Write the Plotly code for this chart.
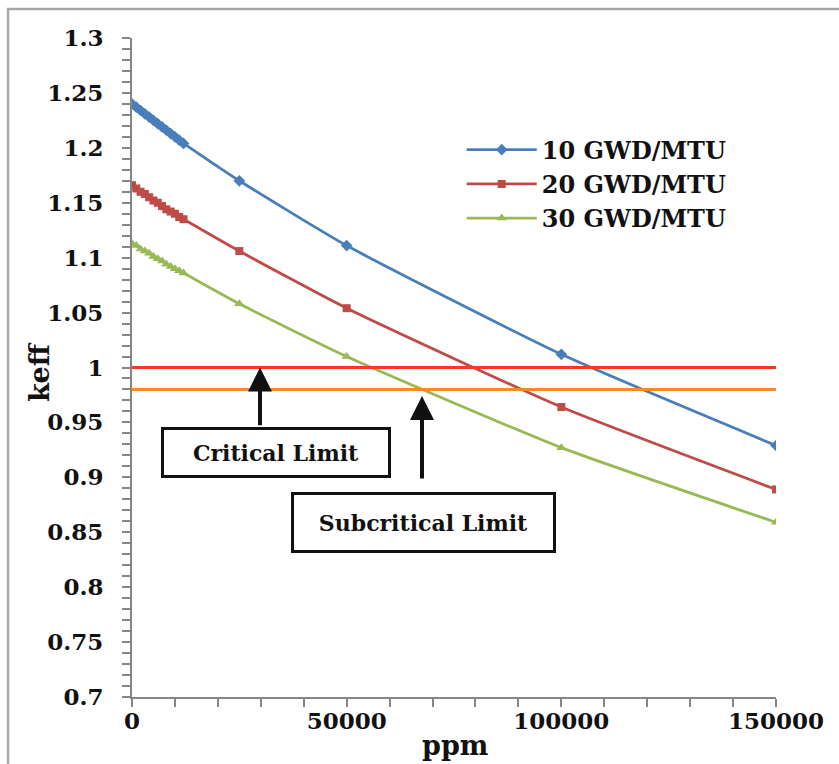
import plotly.graph_objects as go

# Boron concentration (ppm) and k-effective for three burnup levels
ppm = [0, 1000, 2000, 3000, 4000, 5000, 6000, 7000, 8000, 9000, 10000, 11000, 12000,
       25000, 50000, 100000, 150000]
keff_10 = [1.240, 1.237, 1.234, 1.231, 1.228, 1.225, 1.222, 1.219, 1.216, 1.213, 1.210,
           1.207, 1.204, 1.170, 1.111, 1.012, 0.929]
keff_20 = [1.166, 1.163, 1.160, 1.158, 1.155, 1.152, 1.150, 1.147, 1.144, 1.142, 1.140,
           1.137, 1.135, 1.106, 1.054, 0.964, 0.889]
keff_30 = [1.113, 1.111, 1.108, 1.106, 1.104, 1.101, 1.099, 1.097, 1.094, 1.092, 1.090,
           1.088, 1.086, 1.058, 1.010, 0.927, 0.859]

series_names = ["10 GWD/MTU", "20 GWD/MTU", "30 GWD/MTU"]
critical_limit = 1.0
subcritical_limit = 0.98
x_range = [0, 150000]
y_range = [0.7, 1.3]

FONT = "DejaVu Serif"

fig = go.Figure()

styles = [
    ("#4A7EBB", "diamond", 9),
    ("#BE4B48", "square", 8),
    ("#98B954", "triangle-up", 9),
]
for name, vals, (color, sym, msize) in zip(series_names, [keff_10, keff_20, keff_30], styles):
    fig.add_trace(go.Scatter(
        x=ppm, y=vals, name=name, mode="lines+markers",
        line=dict(color=color, width=2.8, shape="spline", smoothing=0.5),
        marker=dict(symbol=sym, size=msize, color=color),
    ))

# Limit lines across the full ppm range
fig.add_trace(go.Scatter(x=x_range, y=[critical_limit] * 2, mode="lines",
                         line=dict(color="#F23C1C", width=3), showlegend=False))
fig.add_trace(go.Scatter(x=x_range, y=[subcritical_limit] * 2, mode="lines",
                         line=dict(color="#F7892B", width=3), showlegend=False))

axis_common = dict(
    showgrid=False, zeroline=False, showline=True, linecolor="#868686", linewidth=2,
    ticks="outside", ticklen=8, tickwidth=2, tickcolor="#868686",
    tickfont=dict(family=FONT, size=23, color="#111", weight="bold"),
)

fig.update_xaxes(range=x_range, dtick=50000, tickformat="d",
                 minor=dict(dtick=10000, ticks="outside", ticklen=8, tickwidth=2,
                            tickcolor="#868686"),
                 ticklabelstandoff=-6, **axis_common)
fig.update_yaxes(range=y_range, dtick=0.05, tickformat="",
                 minor=dict(dtick=0.01, ticks="outside", ticklen=8, tickwidth=2,
                            tickcolor="#868686"),
                 ticklabelstandoff=14, **axis_common)

box_font = dict(family=FONT, size=22, color="#111", weight="bold")
annotations = [
    # arrows pointing at the limit lines
    dict(x=29814, y=critical_limit, ax=29814, ay=0.946, xref="x", yref="y",
         axref="x", ayref="y", text="", showarrow=True, arrowhead=2,
         arrowsize=1.2, arrowwidth=4, arrowcolor="#111"),
    dict(x=67547, y=subcritical_limit - 0.006, ax=67547, ay=0.8975, xref="x", yref="y",
         axref="x", ayref="y", text="", showarrow=True, arrowhead=2,
         arrowsize=1.2, arrowwidth=4, arrowcolor="#111"),
    # axis titles
    dict(text="keff", xref="paper", yref="paper", x=-0.1444, y=0.493, showarrow=False,
         xanchor="center", yanchor="middle", textangle=-90,
         font=dict(family=FONT, size=27, color="#111", weight="bold")),
    dict(text="ppm", xref="paper", yref="paper", x=0.5016, y=-0.073, showarrow=False,
         xanchor="center", yanchor="middle",
         font=dict(family=FONT, size=27, color="#111", weight="bold")),
    # labelled boxes
    dict(text="Critical Limit", x=33424, y=0.9226, showarrow=False, font=box_font,
         bordercolor="#111", borderwidth=3, borderpad=0, bgcolor="white",
         width=224, height=45),
    dict(text="Subcritical Limit", x=67896, y=0.8593, showarrow=False, font=box_font,
         bordercolor="#111", borderwidth=3, borderpad=0, bgcolor="white",
         width=259, height=55),
]

shapes = [
    # outer chart frame
    dict(type="rect", xref="paper", yref="paper", x0=-0.1925, x1=1.3, y0=-0.3, y1=1.044,
         line=dict(color="#A6A6A6", width=2.5), fillcolor="rgba(0,0,0,0)", layer="below"),
]

fig.update_layout(
    width=839, height=764,
    margin=dict(l=132, r=63, t=38, b=67),
    paper_bgcolor="white", plot_bgcolor="white",
    showlegend=True,
    legend=dict(x=0.512, y=0.864, xanchor="left", yanchor="top",
                font=dict(family=FONT, size=24, color="#111", weight="bold"),
                itemwidth=70, tracegroupgap=0, bgcolor="rgba(0,0,0,0)"),
    annotations=annotations,
    shapes=shapes,
)

fig.write_html("out.html")
